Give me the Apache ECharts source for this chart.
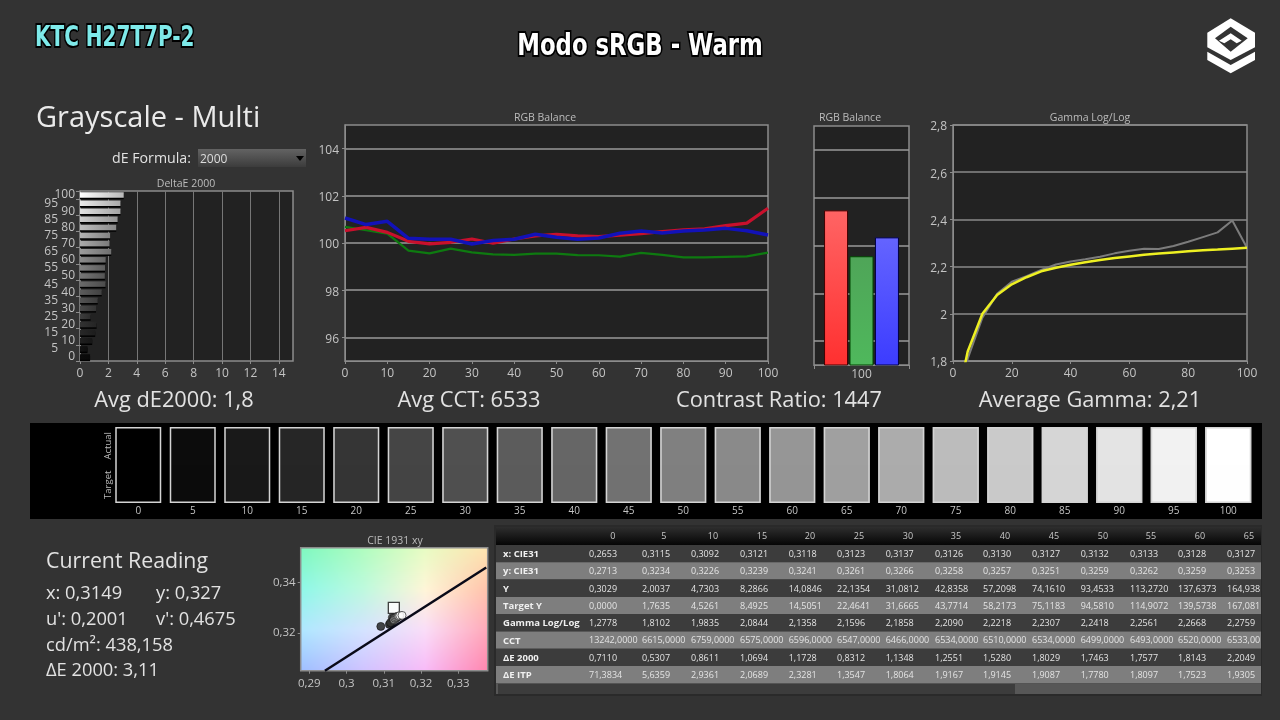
<!DOCTYPE html>
<html>
<head>
<meta charset="utf-8">
<title>KTC H27T7P-2</title>
<style>html,body{margin:0;padding:0;background:#333}#main{width:1280px;height:720px}</style>
<script src="https://cdn.jsdelivr.net/npm/echarts@6/dist/echarts.min.js"></script>
</head>
<body>
<div id="main"></div>
<script>
var levels = ['0','5','10','15','20','25','30','35','40','45','50','55','60','65','70','75','80','85','90','95','100'];
var levelNums = [0,5,10,15,20,25,30,35,40,45,50,55,60,65,70,75,80,85,90,95,100];

var deltaE = [0.71,0.53,0.86,1.07,1.17,0.75,1.13,1.25,1.53,1.80,1.75,1.76,1.81,2.20,2.08,2.12,2.55,2.65,2.85,2.85,3.08];
var deltaGray = [12,20,32,40,50,62,74,84,92,106,118,130,140,156,170,180,190,206,226,236,255];

var red = [100.52,100.66,100.45,100.07,99.96,100.03,100.17,99.99,100.17,100.30,100.37,100.30,100.27,100.33,100.40,100.48,100.56,100.60,100.74,100.84,101.47];
var green = [100.68,100.54,100.40,99.68,99.56,99.76,99.60,99.52,99.50,99.55,99.55,99.49,99.48,99.42,99.58,99.50,99.39,99.39,99.41,99.43,99.59];
var blue = [101.06,100.78,100.92,100.20,100.16,100.16,99.96,100.11,100.16,100.37,100.24,100.16,100.21,100.41,100.51,100.42,100.51,100.55,100.62,100.52,100.34];
var balanceTicks = [96,98,100,102,104];
var lastBalance = [101.47,99.55,100.34];

var gammaActual = [1.2778,1.8102,1.9835,2.0844,2.1358,2.1596,2.1858,2.2090,2.2218,2.2307,2.2418,2.2561,2.2668,2.2759,2.275,2.287,2.305,2.325,2.345,2.395,2.28];
var gammaTarget = [1.55,1.84,2.0,2.08,2.125,2.155,2.18,2.195,2.208,2.218,2.228,2.236,2.243,2.25,2.255,2.26,2.265,2.269,2.272,2.276,2.28];

var swatchActual = [0,12,25,38,53,69,80,92,102,114,128,138,150,160,172,188,202,214,228,242,255];
var swatchTarget = [0,11,24,37,52,68,79,91,101,113,127,137,149,159,171,187,201,213,227,241,254];

var cieX = [0.2653,0.3115,0.3092,0.3121,0.3118,0.3123,0.3137,0.3126,0.3130,0.3127,0.3132,0.3133,0.3128,0.3127,0.3130,0.3133,0.3136,0.3138,0.3140,0.3143,0.3149];
var cieY = [0.2713,0.3234,0.3226,0.3239,0.3241,0.3261,0.3266,0.3258,0.3257,0.3251,0.3259,0.3262,0.3259,0.3253,0.3258,0.3260,0.3262,0.3265,0.3267,0.3269,0.3270];
var locusX = [0.2942,0.3375];
var locusY = [0.3050,0.3460];
var whiteTarget = [0.3127,0.3300];

var tableCols = ['0','5','10','15','20','25','30','35','40','45','50','55','60','65'];
var tableLabels = ['x: CIE31','y: CIE31','Y','Target Y','Gamma Log/Log','CCT','ΔE 2000','ΔE ITP'];
var rowX = ['0,2653','0,3115','0,3092','0,3121','0,3118','0,3123','0,3137','0,3126','0,3130','0,3127','0,3132','0,3133','0,3128','0,3127'];
var rowY = ['0,2713','0,3234','0,3226','0,3239','0,3241','0,3261','0,3266','0,3258','0,3257','0,3251','0,3259','0,3262','0,3259','0,3253'];
var rowLum = ['0,3029','2,0037','4,7303','8,2866','14,0846','22,1354','31,0812','42,8358','57,2098','74,1610','93,4533','113,2720','137,6373','164,938'];
var rowTarget = ['0,0000','1,7635','4,5261','8,4925','14,5051','22,4641','31,6665','43,7714','58,2173','75,1183','94,5810','114,9072','139,5738','167,081'];
var rowGamma = ['1,2778','1,8102','1,9835','2,0844','2,1358','2,1596','2,1858','2,2090','2,2218','2,2307','2,2418','2,2561','2,2668','2,2759'];
var rowCct = ['13242,0000','6615,0000','6759,0000','6575,0000','6596,0000','6547,0000','6466,0000','6534,0000','6510,0000','6534,0000','6499,0000','6493,0000','6520,0000','6533,00'];
var rowDe = ['0,7110','0,5307','0,8611','1,0694','1,1728','0,8312','1,1348','1,2551','1,5280','1,8029','1,7463','1,7577','1,8143','2,2049'];
var rowItp = ['71,3834','5,6359','2,9361','2,0689','2,3281','1,3547','1,8064','1,9167','1,9145','1,9087','1,7780','1,8097','1,7523','1,9305'];
var tableRows = [rowX,rowY,rowLum,rowTarget,rowGamma,rowCct,rowDe,rowItp];

var FONT = '"Open Sans", "Noto Sans", sans-serif';
var HEAD_FONT = '"DejaVu Sans", sans-serif';
var AXIS_TEXT = '#c4c4c4';
var GRID_LINE = '#8c8c8c';

function gray(v){ return 'rgb(' + v + ',' + v + ',' + v + ')'; }
function pairs(xs, ys){ return xs.map(function(x,i){ return [x, ys[i]]; }); }
function comma(v){ return String(v).replace('.', ','); }

// colour field behind the CIE plot
function cieField(){
    var stops = [
        [[128,248,192],[176,252,192],[232,252,196],[255,228,176]],
        [[144,248,232],[190,250,222],[255,246,216],[255,196,172]],
        [[176,232,255],[212,228,255],[250,222,248],[255,170,186]],
        [[160,192,255],[208,196,255],[248,188,248],[255,136,176]]
    ];
    var w = 94, h = 62;
    var c = document.createElement('canvas');
    c.width = w; c.height = h;
    var ctx = c.getContext('2d');
    var img = ctx.createImageData(w, h);
    for (var py = 0; py < h; py++) {
        for (var px = 0; px < w; px++) {
            var fx = px / (w - 1) * 3, fy = py / (h - 1) * 3;
            var ix = Math.min(2, Math.floor(fx)), iy = Math.min(2, Math.floor(fy));
            var tx = fx - ix, ty = fy - iy;
            var p = (py * w + px) * 4;
            for (var k = 0; k < 3; k++) {
                img.data[p + k] = (stops[iy][ix][k] * (1 - tx) + stops[iy][ix + 1][k] * tx) * (1 - ty)
                    + (stops[iy + 1][ix][k] * (1 - tx) + stops[iy + 1][ix + 1][k] * tx) * ty;
            }
            img.data[p + 3] = 255;
        }
    }
    ctx.putImageData(img, 0, 0);
    return c;
}

var graphics = [];
function txt(x, y, s, size, color, extra){
    extra = extra || {};
    var st = { text: s, x: 0, y: 0, fill: color || '#e2e2e2', font: (extra.weight || 'normal') + ' ' + size + 'px ' + (extra.family || FONT),
        align: extra.align || 'left', verticalAlign: 'middle', textAlign: extra.align || 'left', textVerticalAlign: 'middle' };
    if (extra.stroke) { st.stroke = extra.stroke; st.lineWidth = extra.lineWidth; }
    graphics.push({ type: 'text', z: 10, silent: true, x: x, y: y + size * 0.08, scaleX: extra.scaleX || 1, rotation: extra.rotation || 0, style: st });
}
function box(x, y, w, h, fill, z){
    graphics.push({ type: 'rect', z: z === undefined ? -1 : z, silent: true, shape: { x: x, y: y, width: w, height: h }, style: { fill: fill } });
}
function poly(points, fill){
    graphics.push({ type: 'polygon', z: 10, silent: true, shape: { points: points }, style: { fill: fill } });
}

// header
txt(35, 36, 'KTC H27T7P-2', 29, '#7eeaea', { weight: 'bold', family: HEAD_FONT, stroke: '#000', lineWidth: 4, scaleX: 0.69 });
txt(640, 45, 'Modo sRGB - Warm', 30, '#fff', { weight: 'bold', align: 'center', family: HEAD_FONT, stroke: '#000', lineWidth: 4, scaleX: 0.76 });
poly([[1230.7,18.3],[1255,32.7],[1255,47.3],[1230.7,60],[1207.3,47.3],[1207.3,32.7]], '#fff');
poly([[1230.7,26.7],[1247.7,38.3],[1230.7,51.7],[1215,38.3]], '#333');
poly([[1230.7,33.3],[1241.7,40.7],[1236.7,43.3],[1230.7,39.3],[1224.3,43.3],[1219,40.7]], '#fff');
poly([[1207.3,51.7],[1230.7,65],[1255,51.7],[1255,60],[1230.7,73.3],[1207.3,60]], '#fff');

txt(36, 116, 'Grayscale - Multi', 29, '#eaeaea');
txt(112, 157.5, 'dE Formula:', 14.2, '#e2e2e2');
graphics.push({ type: 'rect', z: 5, silent: true, shape: { x: 198, y: 149, width: 108, height: 18 },
    style: { fill: new echarts.graphic.LinearGradient(0, 0, 0, 1, [{ offset: 0, color: '#636363' }, { offset: 1, color: '#3c3c3c' }]) } });
txt(200, 159, '2000', 12, '#dcdcdc');
poly([[296,156],[304,156],[300,161]], '#000');

// chart captions
txt(186, 183.5, 'DeltaE 2000', 10.5, '#bcbcbc', { align: 'center' });
txt(545, 117.5, 'RGB Balance', 10.5, '#bcbcbc', { align: 'center' });
txt(850, 117.5, 'RGB Balance', 10.5, '#bcbcbc', { align: 'center' });
txt(1090, 117.5, 'Gamma Log/Log', 10.5, '#bcbcbc', { align: 'center' });
txt(395, 540, 'CIE 1931 xy', 10.5, '#bcbcbc', { align: 'center' });

// summary line
txt(174, 399.5, 'Avg dE2000: 1,8', 21.8, '#e2e2e2', { align: 'center' });
txt(469, 399.5, 'Avg CCT: 6533', 21.8, '#e2e2e2', { align: 'center' });
txt(779, 399.5, 'Contrast Ratio: 1447', 21.8, '#e2e2e2', { align: 'center' });
txt(1090, 399.5, 'Average Gamma: 2,21', 21.8, '#e2e2e2', { align: 'center' });

// swatch strip
box(30, 423, 1232, 96, '#000');
txt(108, 445, 'Actual', 9.5, '#bcbcbc', { align: 'center', rotation: Math.PI / 2 });
txt(108, 484, 'Target', 9.5, '#bcbcbc', { align: 'center', rotation: Math.PI / 2 });

// current reading
txt(46, 560, 'Current Reading', 21.3, '#e2e2e2');
txt(46, 592, 'x: 0,3149', 18.3, '#e2e2e2');
txt(156, 592, 'y: 0,327', 18.3, '#e2e2e2');
txt(46, 618, "u': 0,2001", 18.3, '#e2e2e2');
txt(156, 618, "v': 0,4675", 18.3, '#e2e2e2');
txt(46, 644, 'cd/m²: 438,158', 18.3, '#e2e2e2');
txt(46, 669, 'ΔE 2000: 3,11', 18.3, '#e2e2e2');

// CIE colour field
graphics.push({ type: 'image', z: -1, silent: true, style: { image: cieField(), x: 300.7, y: 547.7, width: 187, height: 123 } });

// table
var TABLE_X = 496, TABLE_R = 1261, ROW_H = 17.3, ROW_TOP = 545;
var COL_X = [589,642,691,740,788.7,837,885.7,935,983,1032,1080.7,1130,1178,1227];
var HEAD_X = [612.7,663.7,713,762,810,859,908,956,1005,1054,1103,1151,1200,1249];
box(494, 525, 768, 171, '#2a2a2a');
graphics.push({ type: 'rect', z: -1, silent: true, shape: { x: TABLE_X, y: 527, width: TABLE_R - TABLE_X, height: 18 },
    style: { fill: new echarts.graphic.LinearGradient(0, 0, 0, 1, [{ offset: 0, color: '#2e2e2e' }, { offset: 1, color: '#050505' }]) } });
tableCols.forEach(function(c, i){ txt(HEAD_X[i], 536, c, 9, '#c8c8c8', { align: 'center' }); });
tableRows.forEach(function(row, r){
    var y = ROW_TOP + r * ROW_H;
    box(TABLE_X, y, TABLE_R - TABLE_X, ROW_H, r % 2 ? '#7e7e7e' : '#3c3c3c');
    txt(503, y + ROW_H / 2, tableLabels[r], 9.5, '#f0f0f0', { weight: 'bold' });
    row.forEach(function(v, i){ txt(COL_X[i], y + ROW_H / 2, v, 9, '#e4e4e4'); });
});
box(TABLE_X, 684, TABLE_R - TABLE_X, 10, '#575757');
box(TABLE_X + 2, 684, 517, 10, '#3c3c3c');

var option = {
    backgroundColor: '#333333',
    animation: false,
    textStyle: { fontFamily: FONT },
    graphic: graphics,
    grid: [
        { left: 80, top: 191, width: 213, height: 170, show: true, backgroundColor: '#222', borderColor: GRID_LINE, borderWidth: 1.5 },
        { left: 345, top: 125, width: 423, height: 236, show: true, backgroundColor: '#222', borderColor: GRID_LINE, borderWidth: 1.5 },
        { left: 814, top: 126, width: 95, height: 239, show: true, backgroundColor: '#222', borderColor: GRID_LINE, borderWidth: 1.5 },
        { left: 953, top: 125, width: 294, height: 236, show: true, backgroundColor: '#222', borderColor: GRID_LINE, borderWidth: 1.5 },
        { left: 111, top: 427, width: 1144.5, height: 76, show: false },
        { left: 300.7, top: 547.7, width: 187, height: 123, show: true, backgroundColor: 'transparent', borderColor: GRID_LINE, borderWidth: 1.5 }
    ],
    xAxis: [
        { gridIndex: 0, type: 'value', min: 0, max: 15, interval: 2,
          axisLine: { lineStyle: { color: GRID_LINE } }, axisTick: { show: true, length: 3, lineStyle: { color: GRID_LINE } },
          axisLabel: { color: AXIS_TEXT, fontSize: 12, showMaxLabel: false, margin: 7 }, splitLine: { lineStyle: { color: '#777', width: 1 } } },
        { gridIndex: 1, type: 'value', min: 0, max: 100, interval: 10,
          axisLine: { lineStyle: { color: GRID_LINE } }, axisTick: { show: true, length: 3, lineStyle: { color: GRID_LINE } },
          axisLabel: { color: AXIS_TEXT, fontSize: 12, margin: 7 }, splitLine: { show: false } },
        { gridIndex: 2, type: 'category', data: ['100'],
          axisLine: { lineStyle: { color: GRID_LINE } }, axisTick: { show: true, length: 4, lineStyle: { color: GRID_LINE } },
          axisLabel: { color: AXIS_TEXT, fontSize: 12, margin: 4 } },
        { gridIndex: 3, type: 'value', min: 0, max: 100, interval: 20,
          axisLine: { lineStyle: { color: GRID_LINE } }, axisTick: { show: true, length: 3, lineStyle: { color: GRID_LINE } },
          axisLabel: { color: AXIS_TEXT, fontSize: 12, margin: 7 }, splitLine: { show: false } },
        { gridIndex: 4, type: 'category', data: levels, axisLine: { show: false }, axisTick: { show: false },
          axisLabel: { color: AXIS_TEXT, fontSize: 10, interval: 0, margin: 3 } },
        { gridIndex: 5, type: 'value', min: 0.2877, max: 0.3379,
          axisLine: { lineStyle: { color: GRID_LINE } }, axisTick: { show: true, length: 3, customValues: [0.29,0.3,0.31,0.32,0.33], lineStyle: { color: GRID_LINE } },
          axisLabel: { color: AXIS_TEXT, fontSize: 11.5, margin: 7, customValues: [0.29,0.3,0.31,0.32,0.33], formatter: comma }, splitLine: { show: false } }
    ],
    yAxis: [
        { gridIndex: 0, type: 'category', data: levels,
          axisLine: { lineStyle: { color: GRID_LINE } }, axisTick: { show: true, length: 4, interval: 1, lineStyle: { color: GRID_LINE } },
          axisLabel: { interval: 0, margin: 5, color: AXIS_TEXT, fontSize: 12, lineHeight: 8,
              formatter: function(v){ return (+v) % 10 ? '{far|' + v + '}' : '{near|' + v + '}'; },
              rich: { near: { color: AXIS_TEXT, fontSize: 12, lineHeight: 8 }, far: { color: AXIS_TEXT, fontSize: 12, lineHeight: 8, padding: [0, 17, 0, 0] } } },
          splitLine: { show: false } },
        { gridIndex: 1, type: 'value', min: 95, max: 105,
          axisLine: { lineStyle: { color: GRID_LINE } },
          axisTick: { show: true, length: 3, customValues: balanceTicks, lineStyle: { color: GRID_LINE } },
          axisLabel: { color: AXIS_TEXT, fontSize: 12, margin: 6, verticalAlign: 'top', lineHeight: 4, customValues: balanceTicks },
          splitLine: { show: true, lineStyle: { color: '#9a9a9a', width: 1.5 } } },
        { gridIndex: 2, type: 'value', min: 95, max: 105,
          axisLine: { lineStyle: { color: GRID_LINE } },
          axisTick: { show: false, customValues: balanceTicks },
          axisLabel: { show: false, customValues: balanceTicks },
          splitLine: { show: true, lineStyle: { color: '#9a9a9a', width: 1.5 } } },
        { gridIndex: 3, type: 'value', min: 1.8, max: 2.8, interval: 0.2,
          axisLine: { lineStyle: { color: GRID_LINE } }, axisTick: { show: true, length: 3, lineStyle: { color: GRID_LINE } },
          axisLabel: { color: AXIS_TEXT, fontSize: 12, margin: 6, verticalAlign: 'top', lineHeight: 4, formatter: comma },
          splitLine: { show: true, lineStyle: { color: '#8a8a8a', width: 1.5 } } },
        { gridIndex: 4, type: 'value', min: 0, max: 2, show: false },
        { gridIndex: 5, type: 'value', min: 0.305, max: 0.3539,
          axisLine: { lineStyle: { color: GRID_LINE } }, axisTick: { show: true, length: 3, customValues: [0.32,0.34], lineStyle: { color: GRID_LINE } },
          axisLabel: { color: AXIS_TEXT, fontSize: 11.5, margin: 5, customValues: [0.32,0.34], formatter: comma }, splitLine: { show: false } }
    ],
    series: [
        { name: 'DeltaE 2000', type: 'bar', xAxisIndex: 0, yAxisIndex: 0, barWidth: 5.5,
          data: deltaE.map(function(v, i){
              var g = deltaGray[i];
              return { value: v, itemStyle: { shadowColor: '#000', shadowOffsetY: 1.5, shadowBlur: 0,
                  color: new echarts.graphic.LinearGradient(0, 0, 1, 0, [{ offset: 0, color: gray(g) }, { offset: 1, color: gray(Math.round(g * 0.72)) }]) } };
          }) },
        { name: 'Green', type: 'line', xAxisIndex: 1, yAxisIndex: 1, data: pairs(levelNums, green), showSymbol: false, lineStyle: { color: '#0e7a10', width: 2.2 } },
        { name: 'Red', type: 'line', xAxisIndex: 1, yAxisIndex: 1, data: pairs(levelNums, red), showSymbol: false, lineStyle: { color: '#c8102c', width: 3.2 } },
        { name: 'Blue', type: 'line', xAxisIndex: 1, yAxisIndex: 1, data: pairs(levelNums, blue), showSymbol: false, lineStyle: { color: '#1212b8', width: 3.5 } },
        { name: 'R', type: 'bar', xAxisIndex: 2, yAxisIndex: 2, barWidth: 24, barGap: '6%', data: [lastBalance[0]],
          itemStyle: { borderColor: '#400', borderWidth: 1, color: new echarts.graphic.LinearGradient(0, 0, 0, 1, [{ offset: 0, color: '#ff6464' }, { offset: 1, color: '#ff3030' }]) } },
        { name: 'G', type: 'bar', xAxisIndex: 2, yAxisIndex: 2, barWidth: 24, barGap: '6%', data: [lastBalance[1]],
          itemStyle: { borderColor: '#040', borderWidth: 1, color: new echarts.graphic.LinearGradient(0, 0, 0, 1, [{ offset: 0, color: '#4fa558' }, { offset: 1, color: '#4fb85c' }]) } },
        { name: 'B', type: 'bar', xAxisIndex: 2, yAxisIndex: 2, barWidth: 24, barGap: '6%', data: [lastBalance[2]],
          itemStyle: { borderColor: '#004', borderWidth: 1, color: new echarts.graphic.LinearGradient(0, 0, 0, 1, [{ offset: 0, color: '#6464ff' }, { offset: 1, color: '#3c3cff' }]) } },
        { name: 'Gamma', type: 'line', xAxisIndex: 3, yAxisIndex: 3, data: pairs(levelNums, gammaActual), showSymbol: false, clip: true, lineStyle: { color: '#7c7c7c', width: 2 } },
        { name: 'Target gamma', type: 'line', xAxisIndex: 3, yAxisIndex: 3, data: pairs(levelNums, gammaTarget), showSymbol: false, clip: true, lineStyle: { color: '#eef022', width: 2.5 } },
        { name: 'Target', type: 'bar', stack: 'swatch', xAxisIndex: 4, yAxisIndex: 4, barWidth: 46,
          data: swatchTarget.map(function(g){ return { value: 1, itemStyle: { color: gray(g) } }; }) },
        { name: 'Actual', type: 'bar', stack: 'swatch', xAxisIndex: 4, yAxisIndex: 4, barWidth: 46,
          data: swatchActual.map(function(g){ return { value: 1, itemStyle: { color: gray(g) } }; }) },
        { name: 'Frame', type: 'bar', xAxisIndex: 4, yAxisIndex: 4, barWidth: 46, barGap: '-100%',
          data: levels.map(function(){ return 2; }), itemStyle: { color: 'transparent', borderColor: '#d4d4d4', borderWidth: 1.5 } },
        { name: 'Locus', type: 'line', xAxisIndex: 5, yAxisIndex: 5, data: pairs(locusX, locusY), showSymbol: false, clip: true, lineStyle: { color: '#0a0a18', width: 2.5 } },
        { name: 'Readings', type: 'scatter', xAxisIndex: 5, yAxisIndex: 5, symbolSize: 8, clip: true,
          data: pairs(cieX, cieY).map(function(p, i){ return { value: p, itemStyle: { color: gray(swatchActual[i]), borderColor: '#111', borderWidth: 0.8 } }; }) },
        { name: 'Target white', type: 'scatter', xAxisIndex: 5, yAxisIndex: 5, symbol: 'rect', symbolSize: 11, z: 1,
          data: [whiteTarget], itemStyle: { color: '#fff', borderColor: '#111', borderWidth: 1.3 } }
    ]
};

var myChart = echarts.init(document.getElementById('main'));
myChart.setOption(option);
</script>
</body>
</html>
